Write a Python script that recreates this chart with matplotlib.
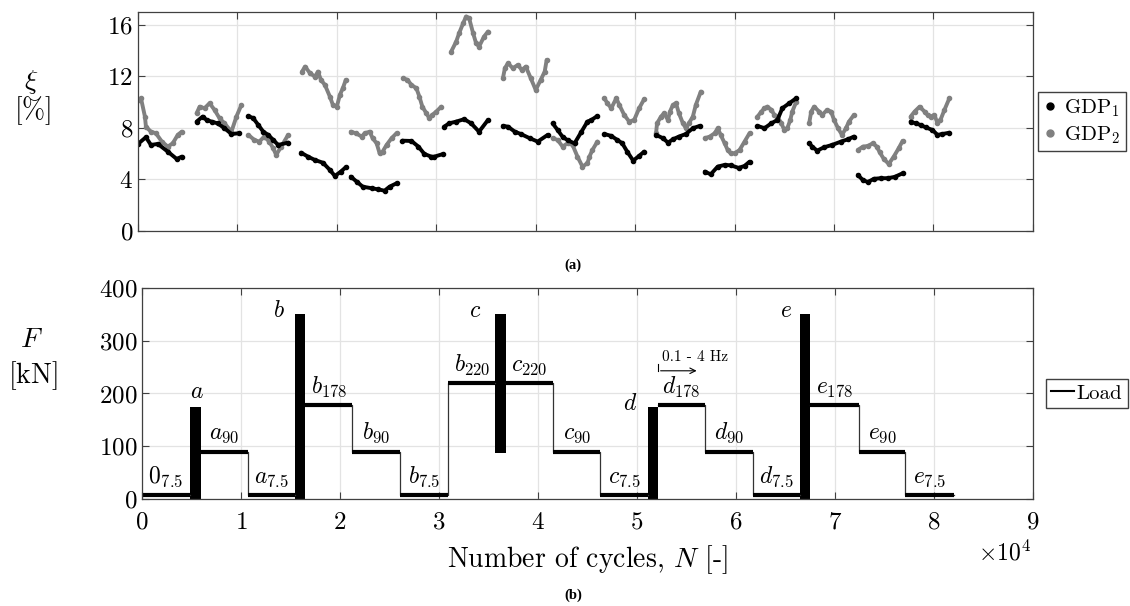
import matplotlib
matplotlib.use("Agg")
import matplotlib.pyplot as plt
from matplotlib.lines import Line2D

plt.rcParams['font.family'] = 'serif'
plt.rcParams['font.serif'] = ['cmr10', 'DejaVu Serif']
plt.rcParams['mathtext.fontset'] = 'cm'
plt.rcParams['axes.formatter.use_mathtext'] = True

# --- damping ratio, x in 1e4 cycles ---
gdp1_x = [
    [0.00, 0.08, 0.13, 0.20, 0.30, 0.39, 0.44],
    [0.59, 0.65, 0.69, 0.74, 0.80, 0.87, 0.94, 1.02],
    [1.11, 1.16, 1.21, 1.26, 1.31, 1.36, 1.41, 1.51],
    [1.64, 1.71, 1.78, 1.86, 1.93, 1.98, 2.04, 2.09],
    [2.14, 2.20, 2.26, 2.35, 2.41, 2.48, 2.53, 2.60],
    [2.66, 2.75, 2.82, 2.88, 2.95, 2.98, 3.07],
    [3.08, 3.13, 3.20, 3.28, 3.35, 3.43, 3.52],
    [3.67, 3.72, 3.79, 3.85, 3.94, 4.02, 4.12],
    [4.17, 4.22, 4.27, 4.32, 4.39, 4.46, 4.52, 4.56, 4.62],
    [4.69, 4.76, 4.82, 4.87, 4.92, 4.98, 5.04, 5.09],
    [5.21, 5.28, 5.33, 5.38, 5.44, 5.51, 5.58, 5.65],
    [5.70, 5.76, 5.83, 5.90, 5.96, 6.04, 6.10, 6.15],
    [6.23, 6.30, 6.37, 6.43, 6.48, 6.55, 6.62],
    [6.75, 6.78, 6.83, 6.90, 6.98, 7.07, 7.14, 7.20],
    [7.24, 7.29, 7.34, 7.40, 7.47, 7.54, 7.61, 7.69],
    [7.77, 7.82, 7.87, 7.92, 7.99, 8.04, 8.09, 8.16],
]
gdp1_y = [
    [6.76, 7.28, 6.68, 6.76, 6.16, 5.59, 5.77],
    [8.49, 8.88, 8.62, 8.49, 8.36, 7.98, 7.53, 7.59],
    [8.93, 8.75, 8.23, 7.71, 7.46, 7.07, 6.68, 6.86],
    [6.08, 5.77, 5.51, 5.30, 4.74, 4.27, 4.61, 4.95],
    [4.22, 3.83, 3.44, 3.32, 3.24, 3.13, 3.44, 3.70],
    [7.01, 6.99, 6.55, 5.98, 5.77, 5.77, 5.98],
    [8.10, 8.36, 8.49, 8.68, 8.36, 7.71, 8.62],
    [8.16, 8.10, 7.71, 7.53, 7.20, 6.94, 7.46],
    [8.36, 7.84, 7.31, 7.05, 6.80, 7.71, 8.49, 8.62, 8.93],
    [7.53, 7.38, 7.07, 6.81, 6.16, 5.46, 5.83, 6.16],
    [7.46, 7.20, 6.86, 7.12, 7.33, 7.53, 7.98, 8.16],
    [4.61, 4.40, 5.00, 5.13, 5.10, 4.90, 5.05, 5.38],
    [8.16, 7.98, 8.36, 8.62, 9.53, 9.92, 10.31],
    [6.81, 6.55, 6.24, 6.50, 6.68, 6.94, 7.12, 7.33],
    [4.35, 3.95, 3.80, 4.05, 4.10, 4.10, 4.20, 4.48],
    [8.49, 8.36, 8.23, 8.05, 7.84, 7.46, 7.53, 7.63],
]
gdp2_x = [
    [0.01, 0.03, 0.07, 0.08, 0.13, 0.18, 0.24, 0.30, 0.35, 0.40, 0.44],
    [0.59, 0.62, 0.67, 0.72, 0.77, 0.82, 0.87, 0.94, 0.99, 1.04],
    [1.11, 1.17, 1.22, 1.27, 1.32, 1.36, 1.39, 1.44, 1.51],
    [1.65, 1.68, 1.73, 1.78, 1.81, 1.84, 1.88, 1.93, 1.96, 2.00, 2.03, 2.06, 2.09],
    [2.14, 2.19, 2.25, 2.28, 2.33, 2.36, 2.40, 2.43, 2.46, 2.50, 2.55, 2.60],
    [2.67, 2.71, 2.75, 2.80, 2.83, 2.86, 2.90, 2.93, 2.96, 3.00, 3.05],
    [3.15, 3.20, 3.23, 3.27, 3.30, 3.33, 3.37, 3.40, 3.43, 3.48, 3.52],
    [3.67, 3.69, 3.72, 3.77, 3.82, 3.86, 3.90, 3.95, 4.00, 4.05, 4.09, 4.11],
    [4.17, 4.22, 4.27, 4.32, 4.37, 4.42, 4.47, 4.52, 4.54, 4.57, 4.62],
    [4.69, 4.72, 4.76, 4.81, 4.84, 4.89, 4.94, 4.99, 5.04, 5.09],
    [5.21, 5.22, 5.26, 5.29, 5.33, 5.35, 5.38, 5.41, 5.44, 5.48, 5.51, 5.54, 5.58, 5.61, 5.66],
    [5.70, 5.75, 5.80, 5.83, 5.86, 5.90, 5.93, 5.96, 6.00, 6.05, 6.10, 6.15],
    [6.23, 6.27, 6.30, 6.33, 6.37, 6.40, 6.43, 6.47, 6.50, 6.53, 6.56, 6.58, 6.62],
    [6.75, 6.77, 6.80, 6.85, 6.88, 6.93, 6.97, 7.00, 7.04, 7.08, 7.12, 7.15, 7.20],
    [7.24, 7.29, 7.34, 7.39, 7.43, 7.46, 7.50, 7.55, 7.60, 7.65, 7.69],
    [7.77, 7.81, 7.86, 7.91, 7.94, 7.97, 8.01, 8.04, 8.07, 8.11, 8.16],
]
gdp2_y = [
    [10.17, 10.31, 8.88, 8.10, 7.71, 7.59, 6.94, 6.55, 6.81, 7.46, 7.71],
    [9.14, 9.65, 9.53, 9.92, 9.40, 8.75, 8.36, 7.71, 8.88, 9.79],
    [7.46, 7.07, 6.94, 7.33, 6.94, 6.42, 5.90, 6.55, 7.46],
    [12.37, 12.76, 12.25, 11.98, 12.37, 11.73, 11.34, 10.43, 9.79, 9.65, 10.56, 11.08, 11.73],
    [7.71, 7.59, 7.33, 7.59, 7.71, 7.20, 6.81, 6.03, 6.16, 6.68, 7.20, 7.59],
    [11.86, 11.73, 11.34, 11.08, 10.43, 9.65, 9.14, 8.75, 9.01, 9.27, 9.65],
    [13.93, 14.70, 15.36, 16.13, 16.65, 16.52, 15.36, 14.58, 14.31, 15.09, 15.48],
    [11.86, 12.64, 13.02, 12.64, 12.89, 12.50, 12.76, 11.86, 10.95, 11.73, 12.37, 13.28],
    [7.20, 7.07, 6.55, 6.81, 6.68, 5.77, 5.00, 5.26, 5.77, 6.29, 6.94],
    [10.31, 9.92, 9.53, 10.31, 9.79, 9.01, 8.49, 8.62, 9.53, 10.23],
    [7.59, 8.36, 8.88, 9.14, 8.62, 9.27, 9.79, 9.92, 9.14, 8.36, 7.98, 8.36, 8.88, 9.79, 10.82],
    [7.20, 7.33, 7.59, 7.98, 7.46, 6.81, 6.29, 6.03, 6.03, 6.29, 6.94, 7.59],
    [8.88, 9.27, 9.53, 9.65, 9.40, 9.01, 8.88, 8.36, 7.84, 7.98, 8.62, 9.27, 10.04],
    [8.36, 9.27, 9.65, 9.27, 9.01, 9.40, 9.27, 8.62, 7.98, 7.46, 7.98, 8.49, 9.01],
    [6.29, 6.55, 6.60, 6.81, 6.55, 6.10, 5.60, 5.20, 5.77, 6.42, 7.00],
    [8.88, 9.27, 9.65, 9.27, 9.01, 8.88, 9.01, 8.36, 8.62, 9.40, 10.31],
]

# --- load protocol ---
step_start = [0.00, 0.593, 1.07, 1.65, 2.12, 2.61, 3.09, 3.68, 4.15, 4.63, 5.21, 5.69, 6.17, 6.75, 7.24, 7.71]
step_end = [0.485, 1.07, 1.55, 2.12, 2.61, 3.09, 3.57, 4.15, 4.63, 5.11, 5.69, 6.17, 6.65, 7.24, 7.71, 8.20]
step_load = [7.5, 90, 7.5, 178, 90, 7.5, 220, 220, 90, 7.5, 178, 90, 7.5, 178, 90, 7.5]
step_names = ['$0_{7.5}$', '$a_{90}$', '$a_{7.5}$', '$b_{178}$', '$b_{90}$', '$b_{7.5}$', '$b_{220}$',
              '$c_{220}$', '$c_{90}$', '$c_{7.5}$', '$d_{178}$', '$d_{90}$', '$d_{7.5}$',
              '$e_{178}$', '$e_{90}$', '$e_{7.5}$']

bar_start = [0.485, 1.55, 3.57, 5.11, 6.65]
bar_end = [0.593, 1.65, 3.68, 5.21, 6.75]
bar_low = [0, 0, 88, 0, 0]
bar_high = [175, 350, 350, 175, 350]
bar_names = ['$a$', '$b$', '$c$', '$d$', '$e$']
bar_label_x = [0.55, 1.38, 3.36, 4.93, 6.51]
bar_label_y = [203, 357, 357, 180, 357]

fig = plt.figure(figsize=(11.3, 6.06), dpi=100)
ax1 = fig.add_axes([0.1221, 0.6188, 0.7920, 0.3614])
ax2 = fig.add_axes([0.1257, 0.1766, 0.7885, 0.3482])

gray = '#808080'
for ax in (ax1, ax2):
    ax.set_axisbelow(True)
    ax.grid(True, color='#e3e3e3', linewidth=0.9)
    ax.tick_params(direction='in', top=True, right=True, length=5,
                   labelsize=18, color='#404040')
    ax.tick_params(axis='x', pad=9)
    for s in ax.spines.values():
        s.set_color('#404040')
        s.set_linewidth(0.9)
    ax.set_xlim(0, 9)
    ax.set_xticks(range(10))

# top panel
for xs, ys in zip(gdp2_x, gdp2_y):
    ax1.plot(xs, ys, color=gray, lw=2.8, marker='o', ms=3.0,
             solid_joinstyle='round', solid_capstyle='round')
for xs, ys in zip(gdp1_x, gdp1_y):
    ax1.plot(xs, ys, color='black', lw=2.8, marker='o', ms=3.0,
             solid_joinstyle='round', solid_capstyle='round')
ax1.set_ylim(0, 17)
ax1.set_yticks([0, 4, 8, 12, 16])
ax1.set_xticklabels([])
h1 = [Line2D([], [], color='black', marker='o', ls='none', ms=5),
      Line2D([], [], color=gray, marker='o', ls='none', ms=5)]
ax1.legend(h1, ['GDP$_1$', 'GDP$_2$'], loc='center left', bbox_to_anchor=(1.006, 0.5),
           fontsize=15, fancybox=False, edgecolor='#404040', framealpha=1,
           handlelength=0.6, handletextpad=0.4, borderpad=0.25, labelspacing=0.25,
           borderaxespad=0)

# bottom panel: thin connectors only between adjacent steps
path_x, path_y = [], []
for i, (s, e, f) in enumerate(zip(step_start, step_end, step_load)):
    if i > 0 and s != step_end[i - 1]:
        path_x.append(float('nan'))
        path_y.append(float('nan'))
    path_x += [s, e]
    path_y += [f, f]
ax2.plot(path_x, path_y, color='#333333', lw=0.9)
for s, e, f in zip(step_start, step_end, step_load):
    ax2.plot([s, e], [f, f], color='black', lw=3, solid_capstyle='butt')
for s, e, lo, hi in zip(bar_start, bar_end, bar_low, bar_high):
    ax2.bar(s, hi - lo, width=e - s, bottom=lo, align='edge', color='black', lw=0)

for s, e, f, name in zip(step_start, step_end, step_load, step_names):
    ax2.text((s + e) / 2, f + 12, name, ha='center', va='bottom', fontsize=17)
for xx, yy, name in zip(bar_label_x, bar_label_y, bar_names):
    ax2.text(xx, yy, name, ha='center', va='center', fontsize=17)

ax2.plot([5.21, 5.21], [255, 243], color='black', lw=0.8)
ax2.annotate('', xy=(5.63, 243), xytext=(5.21, 243),
             arrowprops=dict(arrowstyle='->', color='black', lw=0.8))
ax2.text(5.59, 268, '0.1 - 4 Hz', ha='center', va='center', fontsize=11)

ax2.set_ylim(0, 400)
ax2.set_yticks([0, 100, 200, 300, 400])
ax2.set_xlabel('Number of cycles, $N$ [-]', fontsize=20, labelpad=7)
ax2.legend([Line2D([], [], color='black', lw=1.5)], ['Load'], loc='center left',
           bbox_to_anchor=(1.014, 0.5), fontsize=15, fancybox=False,
           edgecolor='#404040', framealpha=1, handlelength=1.1, handletextpad=0.15,
           borderpad=0.25, borderaxespad=0)

# labels
fig.text(0.028, 0.865, r'$\xi$', ha='center', va='center', fontsize=20)
fig.text(0.029, 0.818, r'$[\%]$', ha='center', va='center', fontsize=20)
fig.text(0.028, 0.439, r'$F$', ha='center', va='center', fontsize=20)
fig.text(0.029, 0.381, r'$[\mathrm{kN}]$', ha='center', va='center', fontsize=20)
fig.text(0.912, 0.088, r'$\times10^4$', ha='right', va='center', fontsize=17)
fig.text(0.507, 0.563, '(a)', ha='center', va='center', fontsize=10.5,
         family='Liberation Serif', weight='bold')
fig.text(0.507, 0.018, '(b)', ha='center', va='center', fontsize=10.5,
         family='Liberation Serif', weight='bold')

fig.savefig('out.png', dpi=100)
